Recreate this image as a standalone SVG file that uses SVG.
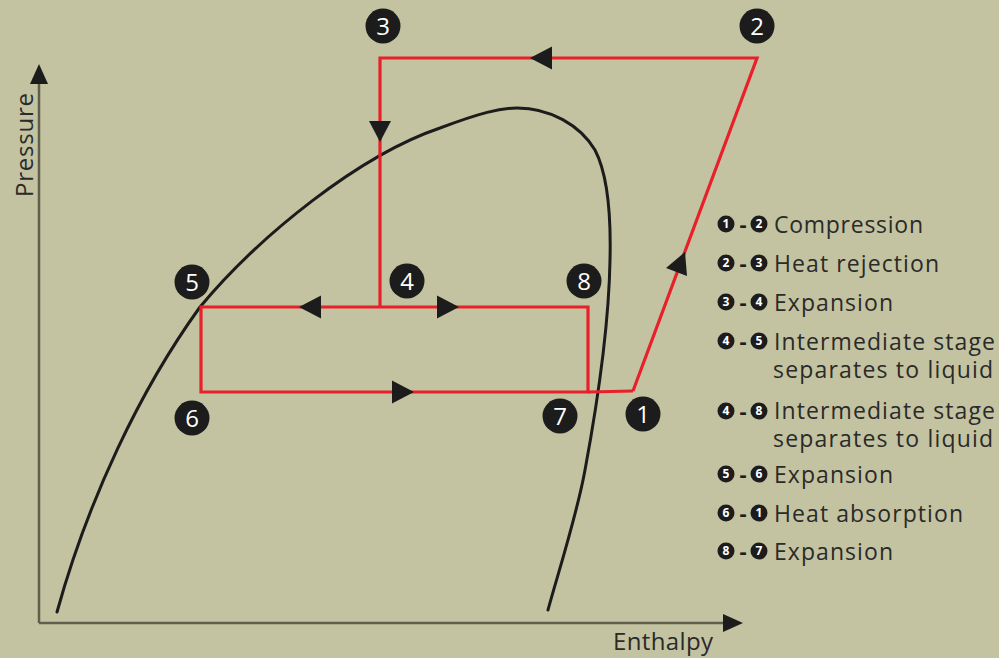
<svg xmlns="http://www.w3.org/2000/svg" width="999" height="658" viewBox="0 0 999 658">
<defs>
<style>
.bg{fill:#c3c3a1}
.axis{stroke:#5f5f4e;stroke-width:2.5;fill:none}
.dome{stroke:#1c1c1c;stroke-width:3;fill:none;stroke-linecap:round}
.cycle{stroke:#e8202a;stroke-width:3.2;fill:none;stroke-linejoin:miter}
.arr{fill:#1c1c1c}
.node circle{fill:#1c1c1c}
.num{font-family:"Open Sans","DejaVu Sans",sans-serif;font-size:24px;fill:#ffffff;text-anchor:middle}
.lg{font-family:"Open Sans","DejaVu Sans",sans-serif;font-size:23px;fill:#2a2a2a}
.hy{font-family:"Open Sans","DejaVu Sans",sans-serif;font-size:22px;font-weight:bold;fill:#1c1c1c;text-anchor:middle}
.lgc{fill:#1c1c1c}
.lgn{font-family:"Open Sans","DejaVu Sans",sans-serif;font-size:12px;font-weight:bold;fill:#ffffff;text-anchor:middle}
.ax{font-family:"Open Sans","DejaVu Sans",sans-serif;font-size:24px;fill:#2a2a2a}
</style>
</defs>
<rect class="bg" x="0" y="0" width="999" height="658"/>

<g id="axes">
<path class="axis" d="M39,623 V78 M39,623 H728"/>
<polygon class="arr" points="39,64 30,84 48,84"/>
<polygon class="arr" points="743,623 723,614 723,632"/>
<text class="ax" transform="translate(33,145) rotate(-90)" text-anchor="middle" textLength="104">Pressure</text>
<text class="ax" x="613" y="650" textLength="100">Enthalpy</text>
</g>

<g id="dome">
<path class="dome" d="M57,612 C88,500 140,390 200,307 C260,235 360,155 440,128 C480,113 500,108 517,108 C550,108 580,125 595,150 C608,175 611,220 610,260 C609,320 598,400 585,470 C577,515 556,580 548,610"/>
</g>

<g id="connectors">
<path class="cycle" d="M633,391 L757,58 L380,58 L380,307"/>
<path class="cycle" d="M201,307 H588 V392 H201 Z"/>
<path class="cycle" d="M588,392 L633,391"/>
<polygon class="arr" points="530,58 552,46.5 552,69.5"/>
<polygon class="arr" points="380,142 369,121 391,121"/>
<polygon class="arr" points="299,307 321,295.5 321,318.5"/>
<polygon class="arr" points="459,307 437,295.5 437,318.5"/>
<polygon class="arr" points="414,392 392,380.5 392,403.5"/>
<polygon class="arr" points="685,252 687,276 666,268"/>
</g>

<g id="n1" class="node"><circle cx="643" cy="414" r="17.5"/><text class="num" x="643" y="423">1</text></g>
<g id="n2" class="node"><circle cx="757" cy="26" r="17.5"/><text class="num" x="757" y="35">2</text></g>
<g id="n3" class="node"><circle cx="383" cy="26" r="17.5"/><text class="num" x="383" y="35">3</text></g>
<g id="n4" class="node"><circle cx="407" cy="281" r="17.5"/><text class="num" x="407" y="290">4</text></g>
<g id="n5" class="node"><circle cx="192" cy="282" r="17.5"/><text class="num" x="192" y="291">5</text></g>
<g id="n6" class="node"><circle cx="192" cy="418" r="17.5"/><text class="num" x="192" y="427">6</text></g>
<g id="n7" class="node"><circle cx="560" cy="416" r="17.5"/><text class="num" x="560" y="425">7</text></g>
<g id="n8" class="node"><circle cx="584" cy="281" r="17.5"/><text class="num" x="584" y="290">8</text></g>

<g id="legend">
<g id="l12"><circle class="lgc" cx="726" cy="224" r="8.5"/><text class="lgn" x="726" y="228.3">1</text><text class="hy" x="743" y="231.5">-</text><circle class="lgc" cx="759" cy="224" r="8.5"/><text class="lgn" x="759" y="228.3">2</text><text class="lg" x="774" y="232.7" textLength="149">Compression</text></g>
<g id="l23"><circle class="lgc" cx="726" cy="263" r="8.5"/><text class="lgn" x="726" y="267.3">2</text><text class="hy" x="743" y="270.5">-</text><circle class="lgc" cx="759" cy="263" r="8.5"/><text class="lgn" x="759" y="267.3">3</text><text class="lg" x="774" y="271.7" textLength="165">Heat rejection</text></g>
<g id="l34"><circle class="lgc" cx="726" cy="302" r="8.5"/><text class="lgn" x="726" y="306.3">3</text><text class="hy" x="743" y="309.5">-</text><circle class="lgc" cx="759" cy="302" r="8.5"/><text class="lgn" x="759" y="306.3">4</text><text class="lg" x="774" y="310.7" textLength="119">Expansion</text></g>
<g id="l45"><circle class="lgc" cx="726" cy="341" r="8.5"/><text class="lgn" x="726" y="345.3">4</text><text class="hy" x="743" y="348.5">-</text><circle class="lgc" cx="759" cy="341" r="8.5"/><text class="lgn" x="759" y="345.3">5</text><text class="lg"><tspan x="774" y="350" textLength="221">Intermediate stage</tspan><tspan x="773" y="378" textLength="220">separates to liquid</tspan></text></g>
<g id="l48"><circle class="lgc" cx="726" cy="411" r="8.5"/><text class="lgn" x="726" y="415.3">4</text><text class="hy" x="743" y="418.5">-</text><circle class="lgc" cx="759" cy="411" r="8.5"/><text class="lgn" x="759" y="415.3">8</text><text class="lg"><tspan x="774" y="419.3" textLength="221">Intermediate stage</tspan><tspan x="773" y="446.7" textLength="220">separates to liquid</tspan></text></g>
<g id="l56"><circle class="lgc" cx="726" cy="474" r="8.5"/><text class="lgn" x="726" y="478.3">5</text><text class="hy" x="743" y="481.5">-</text><circle class="lgc" cx="759" cy="474" r="8.5"/><text class="lgn" x="759" y="478.3">6</text><text class="lg" x="774" y="482.7" textLength="119">Expansion</text></g>
<g id="l61"><circle class="lgc" cx="726" cy="513" r="8.5"/><text class="lgn" x="726" y="517.3">6</text><text class="hy" x="743" y="520.5">-</text><circle class="lgc" cx="759" cy="513" r="8.5"/><text class="lgn" x="759" y="517.3">1</text><text class="lg" x="774" y="521.7" textLength="189">Heat absorption</text></g>
<g id="l87"><circle class="lgc" cx="726" cy="551" r="8.5"/><text class="lgn" x="726" y="555.3">8</text><text class="hy" x="743" y="558.5">-</text><circle class="lgc" cx="759" cy="551" r="8.5"/><text class="lgn" x="759" y="555.3">7</text><text class="lg" x="774" y="560" textLength="119">Expansion</text></g>
</g>
</svg>
